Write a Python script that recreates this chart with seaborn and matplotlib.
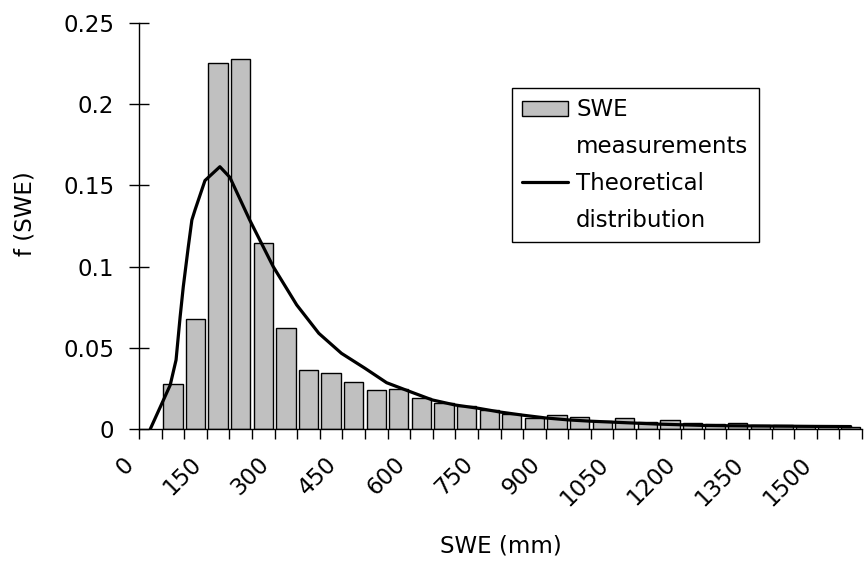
import numpy as np
import pandas as pd
import matplotlib
matplotlib.use("Agg")
import matplotlib.pyplot as plt
import seaborn as sns
from matplotlib.patches import Patch
from matplotlib.lines import Line2D
from matplotlib.transforms import ScaledTranslation

# ---- data ----
bin_centers = [50, 100, 150, 200, 250, 300, 350, 400, 450, 500, 550, 600, 650, 700,
               750, 800, 850, 900, 950, 1000, 1050, 1100, 1150, 1200, 1250, 1300,
               1350, 1400, 1450, 1500, 1550]
frequencies = [0.028, 0.0675, 0.2256, 0.2276, 0.1143, 0.0622, 0.0365, 0.0347, 0.0291,
               0.0238, 0.0248, 0.0193, 0.0160, 0.0142, 0.0117, 0.0092, 0.0066, 0.0088,
               0.0076, 0.0051, 0.0068, 0.0043, 0.0057, 0.0035, 0.0033, 0.0037, 0.0025,
               0.0022, 0.0020, 0.0020, 0.0015]

curve_x = [0, 44, 57, 66, 73, 84, 92, 99, 121, 154, 176, 220, 272, 324, 373, 423, 475,
           523, 575, 624, 674, 725, 775, 825, 875, 925, 975, 1025, 1075, 1125, 1175,
           1225, 1275, 1325, 1375, 1425, 1475, 1550]
curve_y = [0.0, 0.027, 0.0425, 0.069, 0.0876, 0.112, 0.1287, 0.1349, 0.153, 0.1615,
           0.155, 0.1287, 0.100, 0.0764, 0.0589, 0.0466, 0.0374, 0.0285, 0.023, 0.0179,
           0.0148, 0.0128, 0.0104, 0.0085, 0.0068, 0.0056, 0.0048, 0.0042, 0.0036,
           0.0030, 0.0026, 0.0022, 0.0020, 0.0019, 0.0018, 0.0017, 0.0016, 0.0015]

x_tick_values = [0, 150, 300, 450, 600, 750, 900, 1050, 1200, 1350, 1500]
x_tick_labels = ["0", "150", "300", "450", "600", "750", "900", "1050", "1200", "1350", "1500"]
y_tick_values = [0, 0.05, 0.1, 0.15, 0.2, 0.25]
y_tick_labels = ["0", "0.05", "0.1", "0.15", "0.2", "0.25"]

legend_labels = ["SWE", "measurements", "Theoretical", "distribution"]

# ---- style ----
sns.set_theme(style="white")
plt.rcParams["font.family"] = ["DejaVu Sans"]
FS = 16.5

fig = plt.figure(figsize=(8.65, 5.63), dpi=100)
W, H = 865, 563
ax = fig.add_axes([139 / W, 1 - 429 / H, (862 - 139) / W, (429 - 23) / H])

df = pd.DataFrame({"swe": bin_centers, "f": frequencies})
sns.barplot(data=df, x="swe", y="f", native_scale=True, width=0.855,
            color="#C0C0C0", saturation=1, edgecolor="black", linewidth=1.0, ax=ax)
sns.lineplot(x=curve_x, y=curve_y, color="black", linewidth=2.3, estimator=None,
             sort=False, ax=ax)

ax.set_xlim(-25, 1575)
ax.set_ylim(0, 0.25)

# x ticks: labels at bin centres, tick marks at bin edges
ax.set_xticks(x_tick_values)
ax.set_xticklabels(x_tick_labels, rotation=45, ha="right", va="top")
ax.set_xticks(np.arange(-25, 1576, 50), minor=True)
ax.tick_params(axis="x", which="major", length=0, pad=17, labelsize=FS, colors="black")
ax.tick_params(axis="x", which="minor", bottom=True, length=7.2, width=1.0,
               direction="out", color="black")
offset = ScaledTranslation(-12 / 100, 0, fig.dpi_scale_trans)
for lbl in ax.get_xticklabels():
    lbl.set_transform(lbl.get_transform() + offset)

ax.set_yticks(y_tick_values)
ax.set_yticklabels(y_tick_labels)
ax.tick_params(axis="y", which="major", left=True, direction="inout", length=13.7,
               width=1.0, pad=11, labelsize=FS, colors="black")

for side in ["top", "right"]:
    ax.spines[side].set_visible(False)
for side in ["left", "bottom"]:
    ax.spines[side].set_color("black")
    ax.spines[side].set_linewidth(1.0)

ax.set_xlabel("SWE (mm)", fontsize=FS, color="black", va="center")
ax.xaxis.set_label_coords(0.5, (429 - 546) / 406)
ax.set_ylabel("f (SWE)", fontsize=FS, color="black", va="center")
ax.yaxis.set_label_coords((25 - 139) / 723, (429 - 214) / 406)

handles = [
    Patch(facecolor="#C0C0C0", edgecolor="black", linewidth=1.0),
    Line2D([], [], linestyle="none"),
    Line2D([], [], color="black", linewidth=2.3),
    Line2D([], [], linestyle="none"),
]
leg = ax.legend(handles, legend_labels, loc="upper left", bbox_to_anchor=(0.516, 0.840),
                borderaxespad=0, frameon=True, fancybox=False, edgecolor="black",
                framealpha=1, fontsize=FS, handlelength=2.0, handleheight=0.66,
                handletextpad=0.35, borderpad=0.45, labelspacing=0.6)
leg.get_frame().set_linewidth(1.0)
for t in leg.get_texts():
    t.set_color("black")

fig.savefig("out.png", dpi=100)
